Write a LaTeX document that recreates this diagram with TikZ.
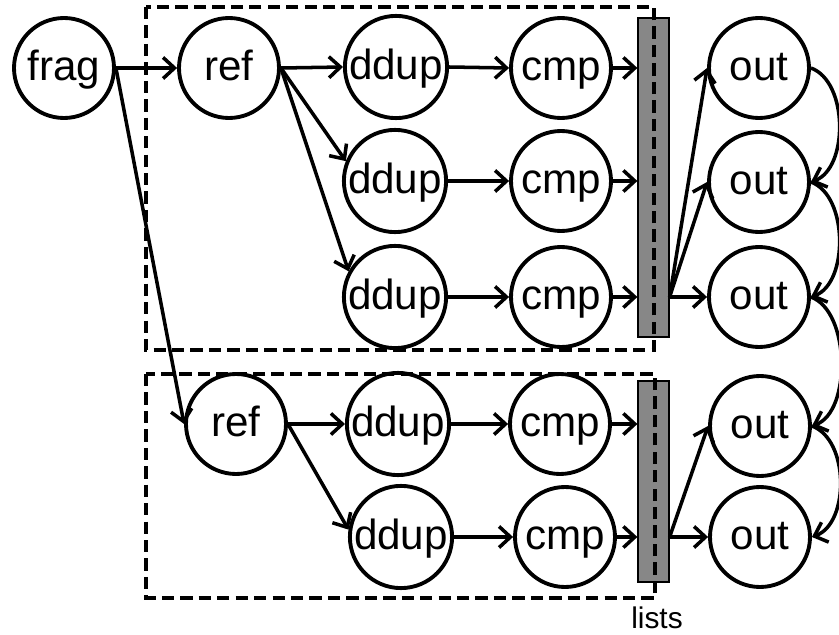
\documentclass[tikz,border=0pt]{standalone}
\usepackage{fontspec}
\setmainfont{Liberation Sans}
\usetikzlibrary{arrows.meta}
\newlength\pxu
\setlength\pxu{0.02cm}
\begin{document}
\begin{tikzpicture}[x=1\pxu, y=1\pxu,
  stage/.style={circle, draw, line width=2.2pt, minimum size=100\pxu, inner sep=0pt,
    font=\fontsize{24}{28}\selectfont, text height=19pt, text depth=4.5pt},
  arr/.style={line width=2pt, -{Straight Barb[length=6.5pt,width=12pt,line width=2pt]}},
  listbar/.style={draw, line width=0.7pt, fill=black!47, minimum width=31\pxu, inner sep=0pt},
  group/.style={line width=2.1pt, dash pattern=on 7pt off 3.5pt},
]
\useasboundingbox (0,0) rectangle (839,-635);

% fragment and the two reference pipelines
\node[stage] (frag) at (64,-68) {frag};

\node[stage] (ref1)  at (229,-68)  {ref};
\node[stage] (ddup1) at (396,-67)  {ddup};
\node[stage] (cmp1)  at (561,-68)  {cmp};
\node[stage] (ddup2) at (395,-181) {ddup};
\node[stage] (cmp2)  at (561,-181) {cmp};
\node[stage] (ddup3) at (395,-297) {ddup};
\node[stage] (cmp3)  at (561,-297) {cmp};

\node[stage] (ref2)  at (236,-424) {ref};
\node[stage] (ddup4) at (398,-424) {ddup};
\node[stage] (cmp4)  at (560,-424) {cmp};
\node[stage] (ddup5) at (401,-537) {ddup};
\node[stage] (cmp5)  at (565,-537) {cmp};

% output stages
\node[stage] (out1) at (759,-68)  {out};
\node[stage] (out2) at (759,-182) {out};
\node[stage] (out3) at (759,-297) {out};
\node[stage] (out4) at (760,-426) {out};
\node[stage] (out5) at (760,-537) {out};

% shared lists
\node[listbar, minimum height=319\pxu] (bar1) at (653.5,-177.5) {};
\node[listbar, minimum height=201\pxu] (bar2) at (653.5,-481.5) {};
\node[anchor=base, font=\fontsize{17}{19}\selectfont] (lists) at (657,-628) {lists};

% dashed groups
\draw[group] (146,-7) rectangle (654,-350);
\draw[group] (146,-374) rectangle (655,-598);

% connectors
\draw[arr] (frag.east) -- (ref1.west);
\draw[arr] (frag.east) -- (ref2.west);

\draw[arr] (ref1.east) -- (ddup1.west);
\draw[arr] (ref1.east) -- (ddup2.158);
\draw[arr] (ref1.east) -- (ddup3.151);
\draw[arr] (ref2.east) -- (ddup4.west);
\draw[arr] (ref2.east) -- (ddup5.172);

\foreach \i in {1,...,5} {
  \draw[arr] (ddup\i.east) -- (cmp\i.west);
}
\foreach \i in {1,2,3} {
  \draw[arr] (cmp\i.east) -- (cmp\i.east -| bar1.west);
}
\foreach \i in {4,5} {
  \draw[arr] (cmp\i.east) -- (cmp\i.east -| bar2.west);
}

\coordinate (b1) at (bar1.east |- out3);
\coordinate (b2) at (bar2.east |- out5);
\draw[arr] (b1) -- (out1.west);
\draw[arr] (b1) -- (out2.west);
\draw[arr] (b1) -- (out3.west);
\draw[arr] (b2) -- (out4.west);
\draw[arr] (b2) -- (out5.west);

% chain between outputs
\draw[arr] (out1.east) .. controls +(-20:40\pxu) and +(20:40\pxu) .. (out2.east);
\draw[arr] (out2.east) .. controls +(-20:40\pxu) and +(20:40\pxu) .. (out3.east);
\draw[arr] (out3.east) .. controls +(-20:42\pxu) and +(20:42\pxu) .. (out4.east);
\draw[arr] (out4.east) .. controls +(-20:40\pxu) and +(20:40\pxu) .. (out5.east);
\end{tikzpicture}
\end{document}
